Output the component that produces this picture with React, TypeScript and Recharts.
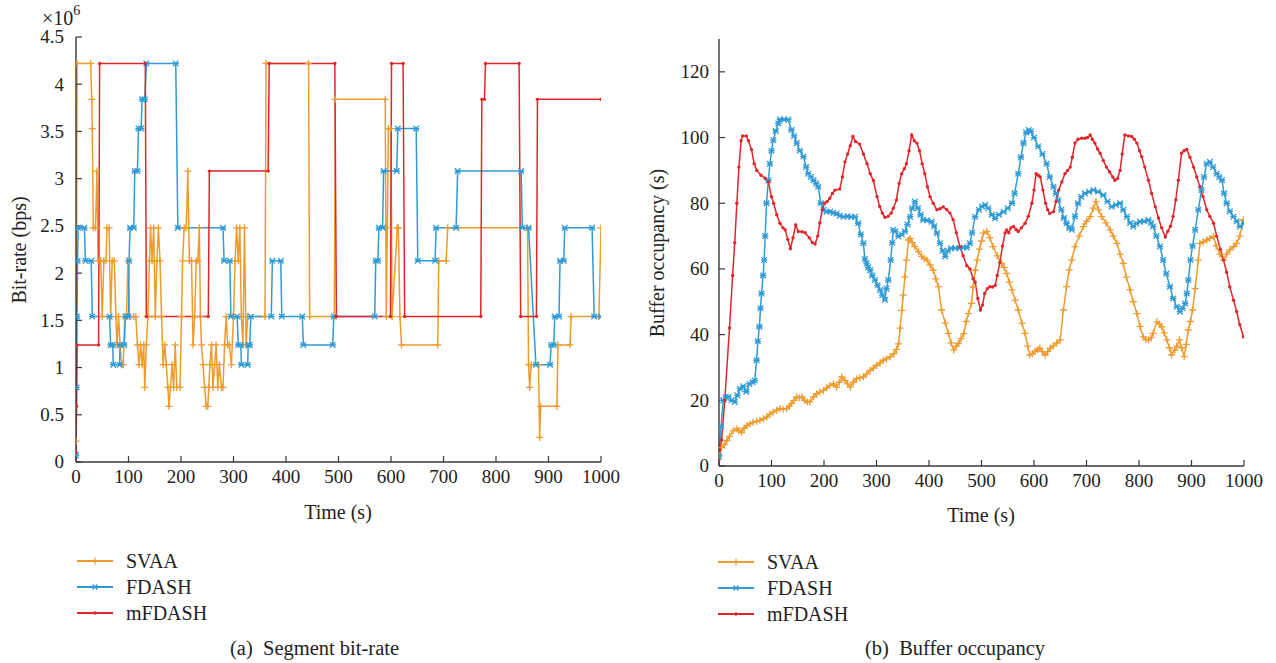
import React from 'react';
import { LineChart, Line, XAxis, YAxis } from 'recharts';

const FONT = "'Liberation Serif', 'Times New Roman', serif";
const ORANGE = '#EE9B2E';
const BLUE = '#2F9AD5';
const RED = '#E0262A';
const AXIS = '#3a3a3a';
const TEXT = '#222';

const seriesNames = ['SVAA', 'FDASH', 'mFDASH'];
const timeTicks = [0, 100, 200, 300, 400, 500, 600, 700, 800, 900, 1000];
const rateTicks = [0, 0.5, 1, 1.5, 2, 2.5, 3, 3.5, 4, 4.5];
const bufferTicks = [0, 20, 40, 60, 80, 100, 120];

// Segment bit-rate (x10^6 bps) : [time s, rate]
const svaaRate: [number, number][] = [
  [0, 0.22], [2, 4.22], [28, 4.22], [30, 3.84], [31, 3.53], [33, 2.48], [37, 2.48], [40, 3.08], [42, 2.13], [47, 2.13],
  [50, 1.54], [53, 2.13], [57, 2.13], [59, 2.48], [63, 2.48], [66, 1.54], [69, 2.13], [73, 2.13], [76, 1.54], [78, 1.24],
  [81, 1.54], [84, 1.24], [87, 1.03], [90, 1.03], [93, 1.54], [96, 1.54], [99, 2.13], [102, 1.54], [110, 1.54], [114, 1.54],
  [117, 1.24], [120, 1.03], [123, 1.24], [126, 1.03], [129, 1.24], [131, 0.79], [134, 1.24], [137, 1.54], [140, 2.13], [142, 2.48],
  [145, 2.13], [148, 2.48], [151, 1.54], [154, 2.13], [157, 2.48], [160, 2.13], [163, 1.54], [166, 1.03], [169, 1.24], [172, 1.03],
  [175, 0.79], [177, 0.59], [180, 0.79], [183, 1.03], [186, 0.79], [189, 1.24], [192, 0.79], [198, 0.79], [201, 1.54], [203, 2.13],
  [206, 2.48], [210, 2.48], [213, 3.08], [216, 2.13], [220, 2.13], [223, 1.24], [226, 1.54], [229, 2.13], [232, 2.13], [235, 2.48],
  [237, 1.54], [239, 1.24], [242, 1.03], [245, 0.79], [248, 0.59], [251, 0.59], [253, 0.79], [255, 1.03], [258, 1.24], [261, 0.79],
  [264, 1.03], [267, 1.24], [270, 0.79], [273, 1.03], [277, 0.79], [280, 0.79], [283, 1.24], [286, 1.54], [289, 1.24], [292, 1.24],
  [296, 1.03], [300, 1.54], [303, 2.13], [306, 2.48], [309, 2.13], [312, 2.48], [315, 1.54], [318, 1.24], [321, 2.48], [324, 1.24],
  [327, 1.54], [360, 1.54], [362, 4.22], [443, 4.22], [445, 1.54], [492, 1.54], [494, 3.84], [589, 3.84], [591, 1.54], [593, 2.48],
  [595, 3.53], [600, 3.53], [602, 1.54], [612, 2.48], [614, 2.48], [617, 1.54], [620, 1.24], [689, 1.24], [691, 2.13], [705, 2.13],
  [708, 2.48], [860, 2.48], [862, 1.03], [864, 0.79], [867, 1.03], [881, 1.03], [883, 0.26], [885, 0.59], [916, 0.59], [918, 1.24],
  [941, 1.24], [943, 1.54], [996, 1.54], [1000, 2.48],
];

const fdashRate: [number, number][] = [
  [0, 0.07], [1, 0.79], [2, 1.54], [3, 2.13], [4, 2.48], [16, 2.48], [18, 2.13], [29, 2.13], [31, 1.54], [64, 1.54],
  [66, 1.24], [70, 1.24], [71, 1.03], [83, 1.03], [84, 1.24], [92, 1.24], [94, 1.54], [100, 1.54], [101, 2.13], [103, 2.48],
  [110, 2.48], [112, 3.08], [117, 3.08], [119, 3.53], [124, 3.53], [126, 3.84], [131, 3.84], [134, 4.22], [190, 4.22], [194, 2.48],
  [280, 2.48], [282, 2.13], [293, 2.13], [295, 1.54], [307, 1.54], [309, 1.24], [314, 1.24], [315, 1.03], [327, 1.03], [328, 1.24],
  [331, 1.24], [333, 1.54], [372, 1.54], [374, 2.13], [390, 2.13], [392, 1.54], [431, 1.54], [433, 1.24], [489, 1.24], [491, 1.54],
  [569, 1.54], [571, 2.13], [575, 2.13], [577, 2.48], [584, 2.48], [586, 3.08], [611, 3.08], [613, 3.53], [648, 3.53], [651, 2.13],
  [684, 2.13], [686, 2.48], [724, 2.48], [727, 3.08], [848, 3.08], [850, 2.48], [862, 2.48], [876, 1.03], [903, 1.03], [905, 1.24],
  [910, 1.24], [912, 1.54], [920, 1.54], [922, 2.13], [929, 2.13], [931, 2.48], [983, 2.48], [987, 1.54], [1000, 1.54],
];

const mfdashRate: [number, number][] = [
  [0, 0.1], [1, 0.59], [2, 1.24], [43, 1.24], [45, 4.22], [132, 4.22], [134, 1.54], [252, 1.54], [254, 3.08], [366, 3.08],
  [368, 4.22], [493, 4.22], [496, 1.54], [599, 1.54], [601, 4.22], [623, 4.22], [626, 1.54], [771, 1.54], [773, 3.84], [778, 3.84],
  [780, 4.22], [844, 4.22], [847, 1.54], [877, 1.54], [879, 3.84], [1000, 3.84],
];

// Buffer occupancy (s) : [time s, buffer]
const svaaBuffer: [number, number][] = [
  [0, 3.2], [5, 5.6], [10, 6.5], [15, 7.7], [20, 9], [27, 10.7], [34, 11.3], [38, 10.8], [43, 10.2], [48, 11.5],
  [53, 12.3], [59, 12.8], [65, 13.3], [72, 13.6], [78, 13.9], [85, 14.4], [91, 14.9], [97, 15.8], [103, 16.4], [110, 17],
  [116, 17.5], [122, 17.3], [129, 17.5], [134, 18.2], [138, 19], [143, 20], [148, 21], [153, 20.8], [158, 21], [163, 20],
  [168, 19.5], [173, 19.5], [180, 21], [186, 22], [192, 22.5], [199, 23], [205, 23.8], [211, 24.5], [218, 25], [224, 24],
  [229, 25.5], [234, 27.1], [240, 26], [245, 25], [250, 24], [256, 25.5], [262, 26.6], [268, 26.8], [275, 27.1], [281, 28],
  [288, 29.1], [294, 29.8], [300, 30.6], [307, 31.4], [313, 32.2], [319, 32.6], [326, 33.2], [333, 34.2], [338, 35.5], [342, 37.2],
  [345, 42], [348, 47.4], [351, 52], [354, 57.6], [357, 62.7], [361, 68.8], [364, 69.3], [368, 68], [373, 66.8], [380, 65.3],
  [386, 63.8], [391, 63.2], [396, 62.7], [402, 61.2], [408, 59.6], [413, 57], [418, 54.6], [424, 47.5], [431, 43.5], [437, 40.4],
  [442, 37.5], [447, 35.3], [452, 36.5], [456, 37.3], [461, 38.8], [466, 40.3], [471, 44], [475, 46.4], [481, 49.5], [484, 54.5],
  [488, 59.6], [492, 62.7], [496, 66], [500, 68.5], [504, 70.9], [510, 71.4], [516, 69.5], [522, 66.8], [530, 64], [538, 61.7],
  [543, 60.5], [548, 58.6], [553, 56], [558, 53.6], [564, 50.5], [570, 47.5], [577, 43.5], [583, 40.4], [588, 36.5], [592, 33.8],
  [597, 34.2], [602, 34.9], [607, 35.4], [611, 35.9], [616, 34.8], [621, 33.8], [626, 34.8], [631, 35.9], [637, 36.6], [643, 37.4],
  [650, 38.4], [656, 47.5], [662, 54.6], [667, 59.7], [672, 62.7], [678, 66.8], [686, 70], [694, 72.9], [700, 74.5], [707, 75.9],
  [713, 78.5], [718, 80.5], [723, 78], [729, 75.9], [737, 74], [745, 71.9], [751, 70], [758, 67.8], [764, 64.5], [770, 61.7],
  [776, 57.5], [783, 53.6], [789, 50], [796, 46.4], [802, 42.5], [808, 39.3], [813, 38.5], [818, 38.4], [823, 39], [827, 40.4],
  [834, 43.9], [839, 43.2], [843, 42.4], [848, 40.5], [853, 38.4], [858, 36], [862, 33.8], [868, 35.3], [872, 36.5], [877, 38.4],
  [881, 36], [886, 33.3], [890, 37], [894, 41.4], [898, 44], [902, 47.5], [907, 54], [913, 62.7], [916, 67.8], [922, 68.2],
  [929, 68.8], [935, 69.3], [942, 69.9], [947, 67], [954, 64.5], [961, 62.7], [967, 64.5], [973, 65.8], [980, 66.8], [986, 67.8],
  [992, 70], [999, 74.9],
];

const fdashBuffer: [number, number][] = [
  [0, 3], [4, 12], [8, 20], [13, 21], [18, 21], [24, 20], [30, 19.5], [35, 21.5], [40, 23.5], [46, 24.3],
  [52, 22.6], [58, 25], [64, 25.5], [68, 26], [71.6, 32.2], [74, 38], [77, 42.4], [79, 48], [81, 52.5], [84, 58],
  [86, 62.7], [88, 70], [90.5, 80], [94, 87], [97, 92], [100, 96], [103.5, 99.2], [108, 102], [113, 104.3], [116, 105.5],
  [124, 105.5], [132, 105.5], [138, 102.3], [143, 100.5], [148, 98.3], [154, 96], [161, 94.2], [166, 91], [170, 89], [175, 88],
  [180, 87], [185, 86], [189, 85], [194, 80], [199, 78], [205, 77.4], [212, 77.5], [218, 77], [224, 76.9], [230, 76.2],
  [237, 75.9], [245, 76], [252, 75.8], [259, 75.9], [265, 73.9], [270, 70.5], [275, 67.8], [278, 63], [281, 61.7], [284, 60.5],
  [288, 59.6], [292, 58], [297, 56.6], [302, 55], [307, 53.6], [311, 52], [316, 50.6], [319, 54], [322.5, 56.6], [327, 62.7],
  [330, 68], [332, 71.9], [336, 71.5], [341.6, 69.9], [348, 70.5], [354, 71.4], [359, 73.5], [364, 75.9], [368, 78.5], [373, 80.5],
  [379, 78.5], [384, 76.5], [389, 74.9], [396, 74.8], [405, 74.4], [410, 73], [415, 70.9], [421, 67.8], [426, 65.5], [431, 63.8],
  [436, 65.5], [442, 66.3], [450, 66.3], [458, 66.3], [466, 66.5], [472, 66.5], [478, 67.8], [482, 71], [488, 75.9], [495, 78],
  [501, 79], [507, 79.5], [513, 78.5], [520, 76.5], [526, 75.4], [533, 76.5], [542, 77.4], [550, 78.5], [558, 80], [563, 83],
  [570, 89], [575, 94], [580, 98.3], [585, 101.5], [590, 102.3], [594, 101.8], [600, 100], [608, 97.3], [616, 95], [624, 92],
  [630, 88], [637, 85], [642, 83], [646, 81], [652, 78], [657, 75.5], [662, 73.9], [667, 72.5], [672, 71.9], [678, 76],
  [684, 80], [690, 82], [697, 83], [705, 83.5], [713, 84], [722, 83.5], [732, 82.5], [740, 80.5], [748, 78.9], [756, 79.5],
  [764, 80], [770, 78], [777, 75.9], [783, 74], [789, 72.9], [795, 73.8], [802, 74.4], [810, 74.5], [818, 74.9], [823, 74],
  [827, 72.9], [833, 70], [840, 66.8], [846, 62.7], [852, 58.5], [859, 54.6], [865, 51], [872, 48.5], [878, 47], [883, 48],
  [888, 49.5], [891, 52.5], [894, 56.6], [898, 62.7], [902, 67], [907, 71.9], [913, 78], [919, 84], [924, 88], [929, 92],
  [935, 92.6], [941, 91], [948, 89], [953, 88], [958, 87], [962, 83], [967, 80], [973, 77.5], [980, 75.9], [986, 74.5],
  [992, 72.9], [1000, 73.9],
];

const mfdashBuffer: [number, number][] = [
  [0, 2], [5, 8], [11, 20], [20, 42], [26, 58], [30, 68], [34, 80], [38, 91], [42, 99], [45, 100.5],
  [52, 100.5], [56, 99], [62, 96.3], [67, 92], [72, 90], [80, 88.5], [88, 87.6], [94, 86.5], [100, 82], [104, 80],
  [110, 76.5], [116, 73.9], [122, 72.5], [126, 71.9], [131, 69], [136, 66.2], [141, 69.5], [146, 73.4], [151, 71.4], [158, 71.3],
  [164, 71], [172, 69.5], [178, 68], [183, 67.6], [188, 70], [192, 74], [197, 78], [201, 80], [206, 80.5], [211, 81.5],
  [216, 83], [221, 84], [230, 84.3], [235, 88], [240, 92.6], [245, 95], [250, 97.5], [255, 100.3], [260, 98.8], [268, 98],
  [275, 95], [282, 92], [288, 89], [294, 86.9], [301, 82], [306, 79], [311, 77], [316, 75.7], [322, 76], [328, 77],
  [332, 78.5], [338, 81], [343, 86], [348, 89], [353, 90.5], [357, 92], [362, 96], [367, 100.8], [372, 99], [377, 98.3],
  [382, 96], [387, 92], [392, 89], [397, 85], [402, 82], [408, 80], [415, 78], [421, 78.3], [427, 78.9], [434, 78],
  [440, 77], [446, 75], [452, 71], [459, 66.7], [465, 64], [472, 61], [478, 60], [484, 57], [488, 56], [493, 51],
  [498, 47.5], [502, 49], [506, 52.5], [511, 54], [516, 54.6], [521, 54.5], [526, 55], [530, 58], [535, 62], [540, 67],
  [545, 71], [548, 71.9], [552, 71], [556, 72.5], [561, 72.9], [566, 72], [570, 71.4], [576, 72.5], [583, 73.9], [589, 76],
  [596, 80], [600, 84], [604, 89], [608, 88.5], [612, 88], [617, 84], [622, 80], [626, 78], [630, 76.9], [637, 77.4],
  [642, 80.5], [647, 84], [653, 86.5], [659, 89], [664, 90], [669, 91], [673, 94], [678, 98.3], [684, 99.5], [691, 99.8],
  [697, 99.8], [702, 100], [707, 100.8], [711, 99.5], [716, 98.3], [721, 96.5], [726, 95.2], [732, 93], [738, 91], [744, 89.5],
  [750, 88], [754, 87], [759, 87.5], [764, 90], [768, 95], [773, 100.8], [780, 100.5], [786, 100.3], [791, 99.5], [796, 98.3],
  [801, 96], [805, 94.2], [811, 91], [818, 87], [824, 83], [831, 78.9], [837, 75.5], [843, 72.5], [850, 69.7], [855, 71.5],
  [860, 73], [865, 76], [870, 81], [875, 87], [881, 95.2], [886, 96], [891, 96.4], [897, 94], [904, 91], [910, 88],
  [916, 85], [922, 82], [929, 78], [935, 76], [942, 73.9], [948, 70], [955, 66], [961, 62.7], [967, 59], [973, 54.5],
  [980, 50.5], [986, 47], [992, 43], [999, 39.3],
];

const toRows = (pts: [number, number][]) => pts.map(([t, v]) => ({ t, v }));

type MarkKind = 'plus' | 'star' | 'dot';

const makeDot = (kind: MarkKind, color: string) => (props: any) => {
  const { cx, cy, index } = props;
  if (cx == null || cy == null) return <g key={`d${index}`} />;
  if (kind === 'plus') {
    return (
      <path key={`d${index}`} d={`M${cx - 3.5} ${cy}H${cx + 3.5}M${cx} ${cy - 3.5}V${cy + 3.5}`} stroke={color} strokeWidth={1.3} fill="none" />
    );
  }
  if (kind === 'star') {
    return (
      <path key={`d${index}`} d={`M${cx - 2.8} ${cy - 2.8}L${cx + 2.8} ${cy + 2.8}M${cx - 2.8} ${cy + 2.8}L${cx + 2.8} ${cy - 2.8}M${cx - 3.2} ${cy}H${cx + 3.2}`} stroke={color} strokeWidth={1.3} fill="none" />
    );
  }
  return <circle key={`d${index}`} cx={cx} cy={cy} r={1.7} fill={color} />;
};

const seriesStyle: { color: string; kind: MarkKind }[] = [
  { color: ORANGE, kind: 'plus' },
  { color: BLUE, kind: 'star' },
  { color: RED, kind: 'dot' },
];

const axisLine = { stroke: AXIS, strokeWidth: 1.4 };
const tickLine = { stroke: AXIS, strokeWidth: 1.2 };

const XTick = (props: any) => {
  const { x, y, payload } = props;
  return (
    <text x={x} y={y} dy="0.71em" textAnchor="middle" fill={TEXT} style={{ fontFamily: FONT, fontSize: 19 }}>
      {String(payload.value)}
    </text>
  );
};

const YTick = (props: any) => {
  const { x, y, payload } = props;
  return (
    <text x={x} y={y} dy="0.34em" textAnchor="end" fill={TEXT} style={{ fontFamily: FONT, fontSize: 19 }}>
      {String(payload.value)}
    </text>
  );
};

interface PanelProps {
  width: number;
  height: number;
  margin: { top: number; right: number; bottom: number; left: number };
  yDomain: [number, number];
  yTicks: number[];
  yTickMargin: number;
  data: [number, number][][];
}

function Panel({ width, height, margin, yDomain, yTicks, yTickMargin, data }: PanelProps) {
  return (
    <LineChart width={width} height={height} margin={margin}>
      <XAxis xAxisId="b" type="number" dataKey="t" domain={[0, 1000]} ticks={timeTicks} interval={0} allowDataOverflow
        orientation="bottom" height={30} tickSize={-6} tickMargin={14} axisLine={axisLine} tickLine={tickLine} tick={<XTick />} />
      <XAxis xAxisId="t" type="number" dataKey="t" domain={[0, 1000]} ticks={timeTicks} interval={0} allowDataOverflow
        orientation="top" height={0} tickSize={-6} axisLine={axisLine} tickLine={tickLine} tick={false} />
      <YAxis yAxisId="l" type="number" domain={yDomain} ticks={yTicks} interval={0} allowDataOverflow
        orientation="left" width={60} tickSize={-6} tickMargin={yTickMargin} axisLine={axisLine} tickLine={tickLine} tick={<YTick />} />
      <YAxis yAxisId="r" type="number" domain={yDomain} ticks={yTicks} interval={0} allowDataOverflow
        orientation="right" width={0} tickSize={-6} axisLine={axisLine} tickLine={tickLine} tick={false} />
      {data.map((pts, i) => (
        <Line key={seriesNames[i]} xAxisId="b" yAxisId="l" data={toRows(pts)} dataKey="v" type="linear"
          stroke={seriesStyle[i].color} strokeWidth={1.5} dot={makeDot(seriesStyle[i].kind, seriesStyle[i].color)}
          isAnimationActive={false} />
      ))}
    </LineChart>
  );
}

const abs = (left: number, top: number, extra: React.CSSProperties = {}): React.CSSProperties => ({
  position: 'absolute', left, top, fontFamily: FONT, color: TEXT, whiteSpace: 'pre', lineHeight: 1, ...extra,
});

function LegendBlock({ left, top }: { left: number; top: number }) {
  return (
    <>
      {seriesNames.map((name, i) => (
        <div key={name} style={abs(left, top + i * 26, { display: 'flex', alignItems: 'center', fontSize: 20 })}>
          <svg width={36} height={10} style={{ display: 'block' }}>
            <line x1={0} y1={5} x2={36} y2={5} stroke={seriesStyle[i].color} strokeWidth={1.8} />
            {seriesStyle[i].kind === 'plus' && <path d="M14.5 5H21.5M18 1.5V8.5" stroke={seriesStyle[i].color} strokeWidth={1.2} />}
            {seriesStyle[i].kind === 'star' && <path d="M15.5 2.5L20.5 7.5M15.5 7.5L20.5 2.5" stroke={seriesStyle[i].color} strokeWidth={1.4} />}
            {seriesStyle[i].kind === 'dot' && <circle cx={18} cy={5} r={1.8} fill={seriesStyle[i].color} />}
          </svg>
          <span style={{ marginLeft: 13 }}>{name}</span>
        </div>
      ))}
    </>
  );
}

export default function App() {
  return (
    <div style={{ position: 'absolute', left: 0, top: 0, width: 1276, height: 663, background: '#fff', overflow: 'hidden', fontFamily: FONT }}>
      <div style={{ position: 'absolute', left: 0, top: 0 }}>
        <Panel width={640} height={500} margin={{ top: 37, right: 39, bottom: 8, left: 16 }}
          yDomain={[0, 4.5]} yTicks={rateTicks} yTickMargin={18} data={[svaaRate, fdashRate, mfdashRate]} />
      </div>
      <div style={{ position: 'absolute', left: 640, top: 0 }}>
        <Panel width={636} height={500} margin={{ top: 39, right: 32, bottom: 4, left: 19 }}
          yDomain={[0, 130]} yTicks={bufferTicks} yTickMargin={16} data={[svaaBuffer, fdashBuffer, mfdashBuffer]} />
      </div>

      {/* multiplier */}
      <div style={abs(42, 6, { fontSize: 20 })}>×10<sup style={{ fontSize: 14, position: 'relative', top: -2, verticalAlign: 'super' }}>6</sup></div>

      {/* axis titles */}
      <div style={abs(338, 512, { fontSize: 20, transform: 'translate(-50%, -50%)' })}>Time (s)</div>
      <div style={abs(981, 515, { fontSize: 20, transform: 'translate(-50%, -50%)' })}>Time (s)</div>
      <div style={abs(19, 250, { fontSize: 20, transform: 'translate(-50%, -50%) rotate(-90deg)' })}>Bit-rate (bps)</div>
      <div style={abs(657, 253, { fontSize: 20, transform: 'translate(-50%, -50%) rotate(-90deg)' })}>Buffer occupancy (s)</div>

      <LegendBlock left={77} top={551} />
      <LegendBlock left={718} top={552} />

      <div style={abs(230, 638, { fontSize: 20.5 })}>(a)  Segment bit-rate</div>
      <div style={abs(865, 638, { fontSize: 20.5 })}>(b)  Buffer occupancy</div>
    </div>
  );
}
